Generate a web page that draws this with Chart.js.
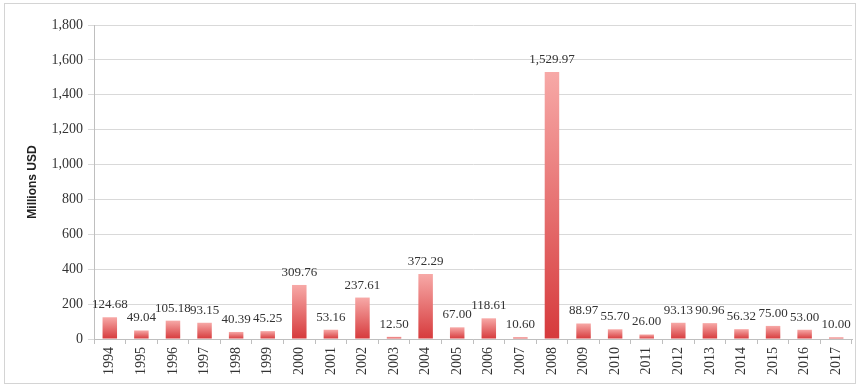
<!DOCTYPE html>
<html>
<head>
<meta charset="utf-8">
<script src="https://cdn.jsdelivr.net/npm/chart.js@4"></script>
<style>
  body { margin: 0; background: #fff; }
  #wrap { width: 860px; height: 387px; position: relative; }
</style>
</head>
<body>
<div id="wrap"><canvas id="myChart"></canvas></div>
<script>
var years = ['1994','1995','1996','1997','1998','1999','2000','2001','2002','2003','2004','2005',
             '2006','2007','2008','2009','2010','2011','2012','2013','2014','2015','2016','2017'];
var amounts = [124.68, 49.04, 105.18, 93.15, 40.39, 45.25, 309.76, 53.16, 237.61, 12.50, 372.29, 67.00,
               118.61, 10.60, 1529.97, 88.97, 55.70, 26.00, 93.13, 90.96, 56.32, 75.00, 53.00, 10.00];
var yTicks = [0, 200, 400, 600, 800, 1000, 1200, 1400, 1600, 1800];

var serif = "'Liberation Serif', 'DejaVu Serif', serif";

// light frame round the whole chart
var frame = {
  id: 'frame',
  beforeDraw: function(chart) {
    var c = chart.ctx;
    c.save();
    c.fillStyle = '#fff';
    c.fillRect(0, 0, chart.width, chart.height);
    c.strokeStyle = '#d4d4d4';
    c.lineWidth = 1;
    c.strokeRect(4.5, 3.5, 851, 380);
    c.restore();
  }
};

// value above each bar
var valueLabels = {
  id: 'valueLabels',
  afterDatasetsDraw: function(chart) {
    var c = chart.ctx;
    var meta = chart.getDatasetMeta(0);
    c.save();
    c.font = '13px ' + serif;
    c.fillStyle = '#333';
    c.textAlign = 'center';
    c.textBaseline = 'alphabetic';
    meta.data.forEach(function(bar, i) {
      var txt = amounts[i].toLocaleString('en-US', {minimumFractionDigits: 2, maximumFractionDigits: 2});
      c.fillText(txt, bar.x, bar.y - 9);
    });
    c.restore();
  }
};

function barFill(ctx) {
  var chart = ctx.chart;
  if (!chart.chartArea || ctx.dataIndex === undefined) return '#e05555';
  var y = chart.scales.y;
  var top = y.getPixelForValue(amounts[ctx.dataIndex]);
  var bottom = y.getPixelForValue(0);
  if (bottom - top < 1) return '#e05555';
  var g = chart.ctx.createLinearGradient(0, top, 0, bottom);
  g.addColorStop(0, '#f7a9a7');
  g.addColorStop(1, '#d63a3c');
  return g;
}

const myChart = new Chart(document.getElementById('myChart'), {
  type: 'bar',
  data: {
    labels: years,
    datasets: [{
      label: 'Millions USD',
      data: amounts,
      backgroundColor: barFill,
      categoryPercentage: 0.9,
      barPercentage: 0.51
    }]
  },
  options: {
    responsive: true,
    maintainAspectRatio: false,
    animation: false,
    layout: { padding: { top: 25, right: 8, left: 4, bottom: 0 } },
    plugins: {
      legend: { display: false },
      tooltip: { enabled: false }
    },
    scales: {
      x: {
        grid: { offset: true, drawOnChartArea: false, color: '#bfbfbf', tickLength: 5 },
        border: { color: '#bfbfbf' },
        ticks: { minRotation: 90, maxRotation: 90, font: { family: serif, size: 14 }, color: '#333', padding: 3 },
        afterFit: function(s) { s.height = 48; }
      },
      y: {
        min: 0,
        max: 1800,
        afterBuildTicks: function(s) { s.ticks = yTicks.map(function(v) { return { value: v }; }); },
        grid: { color: '#d9d9d9', tickLength: 6 },
        border: { color: '#bfbfbf' },
        ticks: {
          font: { family: serif, size: 14 },
          color: '#333',
          padding: 5,
          callback: function(v) { return v.toLocaleString('en-US'); }
        },
        title: {
          display: true,
          text: 'Millions USD',
          font: { family: "'Liberation Sans', Arial, sans-serif", size: 12, weight: 'bold' },
          color: '#222',
          padding: { top: 21, bottom: 4 }
        },
        afterFit: function(s) { s.width = 90; }
      }
    }
  },
  plugins: [frame, valueLabels]
});
</script>
</body>
</html>
